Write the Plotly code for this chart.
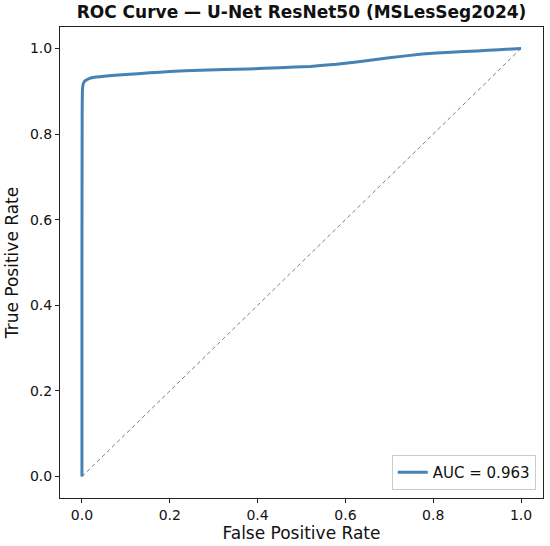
import plotly.graph_objects as go

fpr = [0.0, 0.0, 0.0005, 0.001, 0.002, 0.004, 0.008, 0.015, 0.025, 0.05, 0.1, 0.155, 0.2, 0.27, 0.38, 0.45, 0.52, 0.58, 0.63, 0.7, 0.775, 0.84, 0.9, 0.95, 1.0]
tpr = [0.0, 0.5, 0.85, 0.9, 0.912, 0.92, 0.925, 0.929, 0.932, 0.935, 0.939, 0.943, 0.946, 0.949, 0.952, 0.955, 0.958, 0.963, 0.969, 0.978, 0.987, 0.991, 0.994, 0.997, 1.0]
diag_x = [0.0, 1.0]
diag_y = [0.0, 1.0]
auc_label = "AUC = 0.963"
ticks = [0.0, 0.2, 0.4, 0.6, 0.8, 1.0]

fig = go.Figure()
fig.add_trace(go.Scatter(x=diag_x, y=diag_y, mode="lines", showlegend=False,
                         line=dict(color="gray", width=1, dash="4px,3px")))
fig.add_trace(go.Scatter(x=fpr, y=tpr, mode="lines", name=auc_label,
                         line=dict(color="#4682B4", width=3, shape="spline", smoothing=0.3)))

axis_common = dict(range=[-0.05, 1.05], tickvals=ticks, tickformat=".1f",
                   showgrid=False, zeroline=False, showline=True, mirror=True,
                   linecolor="#222", linewidth=1, ticks="outside", ticklen=4,
                   tickcolor="#222", automargin=False,
                   tickfont=dict(family="DejaVu Sans", size=14, color="#111"))

fig.update_layout(
    width=550, height=546,
    margin=dict(l=60, r=7, t=27, b=48),
    paper_bgcolor="white", plot_bgcolor="white",
    title=dict(text="<b>ROC Curve — U-Net ResNet50 (MSLesSeg2024)</b>", x=0.5, xanchor="center",
               xref="paper", y=1 - 12 / 546, yanchor="middle",
               font=dict(family="DejaVu Sans", size=17, color="#111")),
    xaxis=dict(axis_common, title=dict(text="False Positive Rate", standoff=4,
                                       font=dict(family="DejaVu Sans", size=17, color="#111"))),
    yaxis=dict(axis_common, title=dict(text="True Positive Rate", standoff=6,
                                       font=dict(family="DejaVu Sans", size=17, color="#111"))),
    legend=dict(x=0.985, xanchor="right", y=0.017, yanchor="bottom",
                bordercolor="#ccc", borderwidth=1, bgcolor="rgba(255,255,255,0.8)",
                font=dict(family="DejaVu Sans", size=15, color="#111")),
)

fig.write_html("out.html", config={"displayModeBar": False},
               post_script="document.body.style.margin='0';")
